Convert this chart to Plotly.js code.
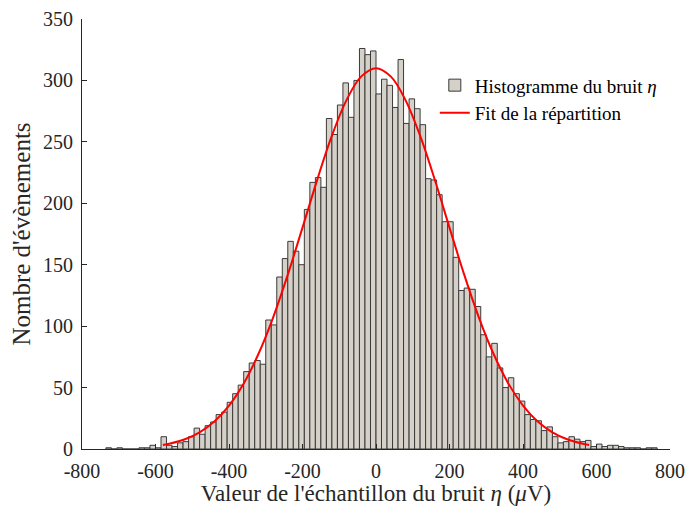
<!DOCTYPE html>
<html>
<head>
<meta charset="utf-8">
<script src="https://cdn.plot.ly/plotly-3.0.1.min.js"></script>
<style>
  html, body { margin: 0; padding: 0; background: #ffffff; }
  #chart { width: 688px; height: 506px; }
</style>
</head>
<body>
<div id="chart"></div>
<script>
// Histogram bins: 100 bins of width 15 µV starting at -735 µV
const binStart = -735;
const binWidth = 15;
const counts = [
  1, 0, 1, 0, 0, 0, 1, 1, 3, 1,
  10, 3, 2, 5, 6, 10, 17, 12, 19, 22,
  28, 30, 38, 45, 52, 63, 70, 72, 69, 105,
  101, 140, 155, 169, 161, 150, 195, 217, 221, 213,
  269, 256, 280, 298, 270, 300, 326, 321, 324, 289,
  301, 296, 278, 317, 265, 285, 277, 264, 220, 219,
  207, 185, 185, 156, 129, 131, 130, 116, 93, 75,
  86, 66, 50, 58, 45, 39, 28, 24, 23, 15,
  18, 10, 5, 6, 10, 8, 6, 7, 2, 4,
  2, 3, 3, 2, 1, 1, 1, 0, 1, 1
];
const binCenters = counts.map((_, i) => binStart + binWidth * (i + 0.5));

// Fit curve
const fitX = [-580, -560, -520, -480, -440, -400, -360, -320, -280, -240, -200, -160, -120, -80, -40, 0,
              40, 80, 120, 160, 200, 240, 280, 320, 360, 400, 440, 480, 520, 560, 580];
const fitY = [3.2, 4.4, 7.9, 13.6, 22.4, 35.4, 53.4, 77.3, 107.0, 141.9, 180.2, 219.1, 255.0, 284.2, 303.3, 310,
              303.3, 284.2, 255.0, 219.1, 180.2, 141.9, 107.0, 77.3, 53.4, 35.4, 22.4, 13.6, 7.9, 4.4, 3.2];

const xTickVals = [-800, -600, -400, -200, 0, 200, 400, 600, 800];
const xTickText = ['-800', '-600', '-400', '-200', '0', '200', '400', '600', '800'];
const yTickVals = [0, 50, 100, 150, 200, 250, 300, 350];

const legendHist = 'Histogramme du bruit <i>η</i>';
const legendFit = 'Fit de la répartition';
const xTitle = "Valeur de l'échantillon du bruit <i>η</i> (<i>μ</i>V)";
const yTitle = "Nombre d'évènements";

const font = 'Liberation Serif, Times New Roman, serif';
const axisColor = '#262626';

const traces = [
  {
    type: 'bar',
    x: binCenters,
    y: counts,
    width: binWidth,
    name: legendHist,
    marker: { color: '#d5d1c8', line: { color: '#3a3a3a', width: 1 } },
    hoverinfo: 'x+y'
  },
  {
    type: 'scatter',
    mode: 'lines',
    x: fitX,
    y: fitY,
    name: legendFit,
    line: { color: '#ff0000', width: 2, shape: 'spline' }
  }
];

const layout = {
  width: 688,
  height: 506,
  margin: { l: 82, r: 18, t: 19, b: 57 },
  paper_bgcolor: '#ffffff',
  plot_bgcolor: '#ffffff',
  font: { family: font, color: '#262626', size: 20 },
  bargap: 0,
  showlegend: true,
  legend: {
    x: 0.6, y: 0.89, xanchor: 'left', yanchor: 'top',
    bgcolor: 'rgba(255,255,255,0)',
    borderwidth: 0,
    font: { family: font, size: 19, color: '#000000' },
    tracegroupgap: 0
  },
  xaxis: {
    range: [-800, 800],
    tickmode: 'array',
    tickvals: xTickVals,
    ticktext: xTickText,
    ticks: 'inside',
    ticklen: 5,
    tickcolor: axisColor,
    showline: true,
    linecolor: axisColor,
    linewidth: 1,
    showgrid: false,
    zeroline: false,
    automargin: false,
    ticklabelstandoff: 4,
    tickfont: { family: font, size: 20, color: '#262626' },
    title: { text: xTitle, font: { family: font, size: 23, color: '#262626' }, standoff: 2 }
  },
  yaxis: {
    range: [0, 350],
    tickmode: 'array',
    tickvals: yTickVals,
    ticks: 'inside',
    ticklen: 5,
    tickcolor: axisColor,
    showline: true,
    linecolor: axisColor,
    linewidth: 1,
    showgrid: false,
    zeroline: false,
    automargin: false,
    ticklabelstandoff: 4,
    tickfont: { family: font, size: 20, color: '#262626' },
    title: { text: yTitle, font: { family: font, size: 25, color: '#262626' }, standoff: 5 }
  }
};

Plotly.newPlot('chart', traces, layout, { displayModeBar: false, staticPlot: true });
</script>
</body>
</html>
